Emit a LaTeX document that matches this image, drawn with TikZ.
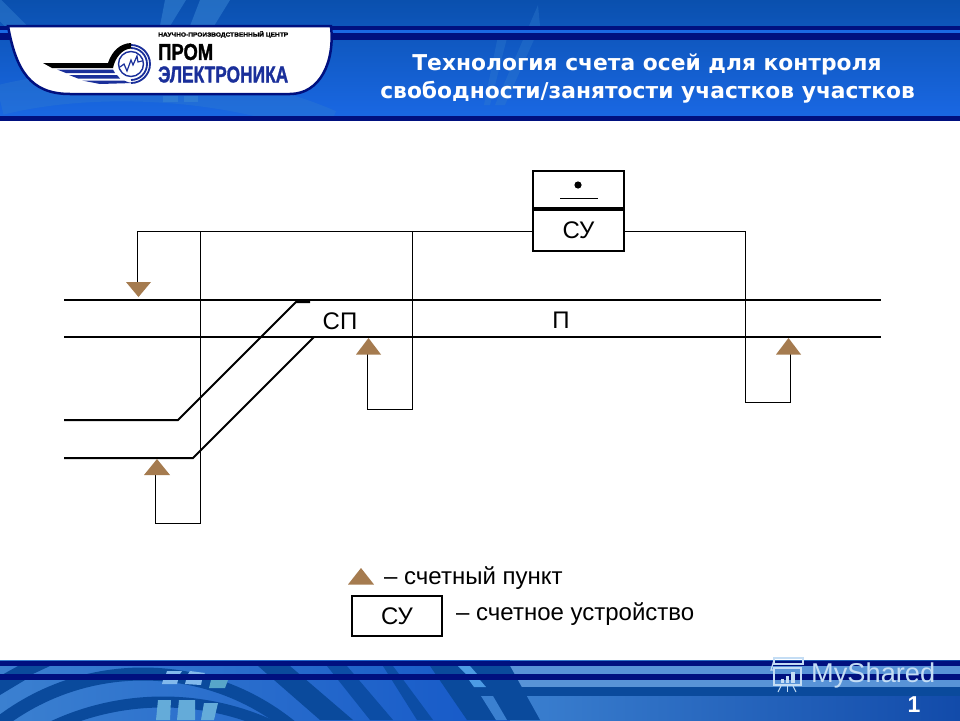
\documentclass[tikz,border=0pt]{standalone}
\usepackage{fontspec}
\setmainfont{Liberation Sans}
\newfontfamily\titlefont{DejaVu Sans}
\newfontfamily\logofont[FakeBold=1.5]{Liberation Sans}
\usetikzlibrary{shapes.geometric}
\definecolor{navyband}{HTML}{00107F}
\definecolor{bluetop}{HTML}{0A50AE}
\definecolor{bluebot}{HTML}{1A68E4}
\definecolor{bluemid}{HTML}{1558C8}
\definecolor{skyblue}{HTML}{4C9BE4}
\definecolor{medblue}{HTML}{3B80D0}
\definecolor{darkarc}{HTML}{0A4A9C}
\definecolor{triangcol}{HTML}{A57B4F}
\definecolor{logoblue}{HTML}{1A2F9A}
\definecolor{wmark}{HTML}{C4DDF4}
\tikzset{
 x=1pt,y=-1pt,
 track/.style={line width=2pt,black},
 wire/.style={line width=1pt,black},
 boxline/.style={draw=black,line width=2pt},
 cntpoint/.style={fill=triangcol,draw=none},
 lab/.style={inner sep=0pt,font=\fontsize{24}{27}\selectfont},
 titletext/.style={inner sep=0pt,text=white,font=\titlefont\bfseries\fontsize{21.8}{26}\selectfont},
 logotext/.style={anchor=west,inner sep=0pt,font=\logofont\bfseries},
}
\begin{document}
\begin{tikzpicture}
\useasboundingbox (0,0) rectangle (960,720);
\fill[white] (0,0) rectangle (960,720);
% header
\begin{scope}
\clip (0,0) rectangle (960,118);
\shade[top color=bluetop,bottom color=bluebot] (0,0) rectangle (960,118);
\fill[skyblue!70!bluetop,opacity=.55] (165,0)--(186,0)--(170,26)--(160,26)--cycle;
\fill[skyblue!70!bluetop,opacity=.55] (200,0)--(230,0)--(214,26)--(190,26)--cycle;
\fill[skyblue!60!bluetop,opacity=.35] (500,26)--(510,26)--(490,105)--(484,105)--cycle;
\fill[skyblue!60!bluetop,opacity=.35] (538,5)--(540,26)--(505,105)--(495,105)--cycle;
\draw[skyblue!60!bluetop,opacity=.5,line width=16pt] (-10,0)--(40,50);
\draw[skyblue!60!bluetop,opacity=.35,line width=30pt] (0,100) .. controls (100,75) and (240,85) .. (330,125);
\fill[skyblue!70!bluetop,opacity=.6] (163,96)--(178,96)--(178,102)--(163,102)--cycle;
\fill[skyblue!70!bluetop,opacity=.6] (184,96)--(198,96)--(198,102)--(184,102)--cycle;
\end{scope}
\fill[navyband] (0,26) rectangle (960,40);
\fill[bluebot] (0,30) rectangle (960,33);
\fill[navyband] (0,116) rectangle (960,121);
% logo
\draw[navyband,line width=2.5pt,fill=white] (8,26) .. controls (16,70) and (30,94) .. (70,94) -- (290,94) .. controls (320,94) and (335,62) .. (331,26) -- cycle;
\draw[logoblue,line width=1.8pt] (131,45) arc[start angle=-90,end angle=90,radius=19];
\draw[logoblue,line width=1.8pt] (131,48) arc[start angle=-90,end angle=90,radius=16];
\draw[logoblue,line width=1.4pt] (131,64) circle[radius=12.5];
\fill[black] (43,63) -- (108,63) .. controls (112,51) and (120,43.5) .. (131,43) -- (131,48.5) .. controls (122,49) and (115,58) .. (113,68) -- (52,68) -- cycle;
\fill[logoblue] (57,69.5) -- (113,69.5) -- (115,73) -- (66,73) -- cycle;
\fill[logoblue] (69,75) -- (117,75) -- (120,78.5) -- (78,78.5) -- cycle;
\fill[logoblue] (82,80.5) -- (124,80.5) .. controls (127,82) and (130,83) .. (133,83) -- (100,84) -- cycle;
\draw[logoblue,line width=1.2pt] (120,67) -- (124,64) -- (127,71) -- (131,60) -- (133,65) -- (137,56) -- (138,62) -- (142,61);
\node[logotext] (lg1) at (158,34.5) {\resizebox{130pt}{5.4pt}{НАУЧНО-ПРОИЗВОДСТВЕННЫЙ ЦЕНТР}};
\node[logotext] (lg2) at (158,52) {\resizebox{55pt}{16pt}{ПРОМ}};
\node[logotext,text=logoblue] (lg3) at (158,74.5) {\resizebox{130pt}{16pt}{ЭЛЕКТРОНИКА}};
% title
\node[titletext] (t1) at (647,64) {Технология счета осей для контроля};
\node[titletext] (t2) at (647.5,92) {свободности/занятости участков участков};
% footer
\begin{scope}
\clip (0,660) rectangle (960,720);
\shade[left color=medblue,right color=bluemid] (0,660) rectangle (510,720);
\shade[left color=medblue,right color=bluemid!85!black] (510,660) rectangle (960,720);
\fill[medblue!85!white] (505,666) rectangle (960,687);
\fill[darkarc] (505,687) rectangle (960,696);
\draw[darkarc,line width=13pt] (143,909) circle[radius=235];
\draw[darkarc,line width=11pt] (163,963) circle[radius=261];
\fill[darkarc] (18,666)--(50,666)--(20,680)--(0,688)--(0,676)--cycle;
\fill[darkarc] (0,680)--(25,680)--(0,695)--cycle;
\fill[darkarc] (258,666)--(290,666)--(353,720)--(320,720)--cycle;
\fill[darkarc!80!bluemid] (327,666)--(347,666)--(393,720)--(370,720)--cycle;
\fill[darkarc!80!bluemid] (383,666)--(393,666)--(433,720)--(417,720)--cycle;
\fill[darkarc] (430,666)--(510,666)--(540,720)--(467,720)--cycle;
\fill[skyblue] (458,666)--(470,666)--(477,674)--(466,674)--cycle;
\fill[skyblue] (469,680)--(480,680)--(486,687)--(474,687)--cycle;
\fill[medblue] (481,696)--(493,696)--(507,720)--(496,720)--cycle;
\fill[skyblue!70!white] (167,671)--(182,671)--(180,674)--(166,674)--cycle;
\fill[skyblue!70!white] (190,671)--(205,673)--(204,674)--(188,674)--cycle;
\fill[skyblue!70!white] (163,680)--(178,680)--(177,684)--(162,684)--cycle;
\fill[skyblue!70!white] (186,680)--(202,680)--(201,685)--(185,684)--cycle;
\fill[skyblue!60!teal!80!white] (211,680)--(228,680)--(225,688)--(209,688)--cycle;
\fill[skyblue!80!teal!80!white] (158,700)--(171,700)--(170,720)--(156,720)--cycle;
\fill[skyblue!80!teal!80!white] (179,700)--(195,700)--(195,720)--(177,720)--cycle;
\fill[skyblue!80!teal!80!white] (204,703)--(218,703)--(214,720)--(201,720)--cycle;
\end{scope}
\fill[navyband] (0,661) rectangle (960,666);
\fill[navyband] (0,674) rectangle (960,680);
% watermark
\begin{scope}[wmark]
\draw[line width=1.2pt] (774,658) -- (803,658) -- (803,664) -- (774,664) -- cycle;
\draw[line width=1.2pt] (774,660) -- (771,670) -- (774,670);
\draw[line width=1.2pt] (774,668) rectangle (801,685);
\fill (781,679) rectangle (784,683);
\fill (786,676) rectangle (789,683);
\fill (791,672) rectangle (795,683);
\draw[line width=1pt] (781,686) -- (778,692);
\draw[line width=1pt] (787,686) -- (787,692);
\draw[line width=1pt] (793,686) -- (796,692);
\end{scope}
\node[anchor=west,inner sep=0pt,text=wmark] (wm) at (811,675.5) {\resizebox{124pt}{!}{MyShared}};
\node[inner sep=0pt,text=white,font=\bfseries\fontsize{23}{26}\selectfont] (pg) at (914,705) {1};
% counter box
\node[boxline,fill=white,minimum width=91pt,minimum height=39pt,inner sep=0pt] (topbox) at (578.5,190) {};
\node[boxline,fill=white,minimum width=91pt,minimum height=41pt,inner sep=0pt] (su) at (578.5,230) {};
\draw[line width=3pt] (su.north west) -- (su.north east);
\node[lab] at (su.center) {СУ};
\fill[black] (578,185) circle[radius=3.6pt];
\draw[line width=1.6pt] (560,198.5) -- (598,198.5);
% coordinates
\coordinate (a) at (137,231.5);
\coordinate (a2) at (137,283);
\coordinate (b) at (200,231.5);
\coordinate (b2) at (200,523);
\coordinate (b3) at (155,523);
\coordinate (b4) at (155,475);
\coordinate (c) at (412,231.5);
\coordinate (c2) at (412,409);
\coordinate (c3) at (367.5,409);
\coordinate (c4) at (367.5,354);
\coordinate (d) at (745,231.5);
\coordinate (d2) at (745,402);
\coordinate (d3) at (790,402);
\coordinate (d4) at (790,354);
% wires
\draw[wire] (su.west |- a) -- (a) -- (a2);
\draw[wire] (b) -- (b2) -- (b3) -- (b4);
\draw[wire] (c) -- (c2) -- (c3) -- (c4);
\draw[wire] (su.east |- d) -- (d) -- (d2) -- (d3) -- (d4);
% tracks
\draw[track] (64,300) -- (881,300);
\draw[track] (64,337) -- (881,337);
\draw[track] (64,420) -- (178,420) -- (296,302) -- (310,302);
\draw[track] (64,458) -- (193,458) -- (314,337);
% counting points
\fill[cntpoint] (126,282) -- (151,282) -- (138.5,297) -- cycle;
\fill[cntpoint] (144,475) -- (170,475) -- (157,459) -- cycle;
\fill[cntpoint] (356,354.5) -- (381,354.5) -- (368.5,338) -- cycle;
\fill[cntpoint] (776,354.5) -- (801,354.5) -- (788.5,338) -- cycle;
\node[lab] (sp) at (340,321.5) {СП};
\node[lab] (p) at (561,320) {П};
% legend
\fill[cntpoint] (348,584.5) -- (374,584.5) -- (361,568) -- cycle;
\node[lab,anchor=west] (l1) at (384,578) {– счетный пункт};
\node[boxline,minimum width=90pt,minimum height=40pt,inner sep=0pt] (lsu) at (397,616) {};
\node[lab] at (lsu.center) {СУ};
\node[lab,anchor=west] (l2) at (456,614) {– счетное устройство};
\end{tikzpicture}
\end{document}
